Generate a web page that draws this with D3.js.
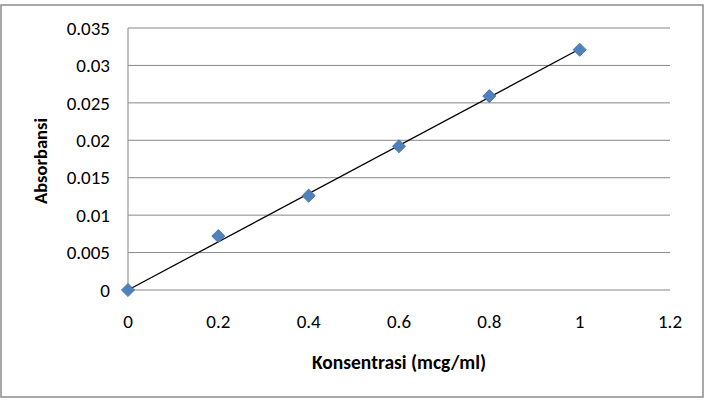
<!DOCTYPE html>
<html>
<head>
<meta charset="utf-8">
<script src="https://cdn.jsdelivr.net/npm/d3@7"></script>
<style>
  body { margin: 0; background: #fff; }
  text { font-family: Carlito, Lato, "Open Sans", sans-serif; fill: #000; }
</style>
</head>
<body>
<svg id="chart" width="712" height="406"></svg>
<script>
const svg = d3.select("#chart");

// data
const konsentrasi = [0, 0.2, 0.4, 0.6, 0.8, 1.0];
const absorbansi = [0, 0.0072, 0.0126, 0.0192, 0.0259, 0.0321];
const xTicks = [0, 0.2, 0.4, 0.6, 0.8, 1, 1.2];
const yTicks = [0, 0.005, 0.01, 0.015, 0.02, 0.025, 0.03, 0.035];

// outer chart border
svg.append("rect")
    .attr("x", 1)
    .attr("y", 5)
    .attr("width", 702)
    .attr("height", 392)
    .attr("fill", "white")
    .attr("stroke", "#8c8c8c")
    .attr("stroke-width", 1.5);

const x = d3.scaleLinear().domain([0, 1.2]).range([128, 670]);
const y = d3.scaleLinear().domain([0, 0.035]).range([290, 28]);

// horizontal gridlines
svg.selectAll("line.grid")
    .data(yTicks)
    .enter()
    .append("line")
    .attr("class", "grid")
    .attr("x1", x(0))
    .attr("x2", x(1.2))
    .attr("y1", d => y(d))
    .attr("y2", d => y(d))
    .attr("stroke", "#878787")
    .attr("stroke-width", 1);

// y axis line
svg.append("line")
    .attr("x1", x(0)).attr("x2", x(0))
    .attr("y1", y(0)).attr("y2", y(0.035))
    .attr("stroke", "#878787")
    .attr("stroke-width", 1);

// y tick labels
svg.selectAll("text.ylab")
    .data(yTicks)
    .enter()
    .append("text")
    .attr("class", "ylab")
    .attr("x", 110)
    .attr("y", d => y(d))
    .attr("dy", "0.35em")
    .attr("text-anchor", "end")
    .attr("font-size", "19px")
    .text(d => d === 0 ? "0" : String(+d.toFixed(3)));

// x tick labels
svg.selectAll("text.xlab")
    .data(xTicks)
    .enter()
    .append("text")
    .attr("class", "xlab")
    .attr("x", d => x(d))
    .attr("y", 328)
    .attr("text-anchor", "middle")
    .attr("font-size", "19px")
    .text(d => String(+d.toFixed(1)));

// trendline (least squares through origin)
const slope = d3.sum(konsentrasi, (d, i) => d * absorbansi[i]) / d3.sum(konsentrasi, d => d * d);
svg.append("line")
    .attr("x1", x(0)).attr("y1", y(0))
    .attr("x2", x(1)).attr("y2", y(slope * 1))
    .attr("stroke", "#000")
    .attr("stroke-width", 1.3);

// diamond markers
const diamond = d3.symbol().type(d3.symbolDiamond2).size(110);
svg.selectAll("path.pt")
    .data(konsentrasi)
    .enter()
    .append("path")
    .attr("class", "pt")
    .attr("d", diamond)
    .attr("transform", (d, i) => `translate(${x(d)},${y(absorbansi[i])})`)
    .attr("fill", "#4f81bd")
    .attr("stroke", "#3c6ca6")
    .attr("stroke-width", 0.8);

// axis titles
svg.append("text")
    .attr("x", 399)
    .attr("y", 369)
    .attr("text-anchor", "middle")
    .attr("font-size", "19.5px")
    .attr("font-weight", "bold")
    .text("Konsentrasi (mcg/ml)");

svg.append("text")
    .attr("transform", "translate(47,161) rotate(-90)")
    .attr("text-anchor", "middle")
    .attr("font-size", "18.5px")
    .attr("font-weight", "bold")
    .text("Absorbansi");
</script>
</body>
</html>
